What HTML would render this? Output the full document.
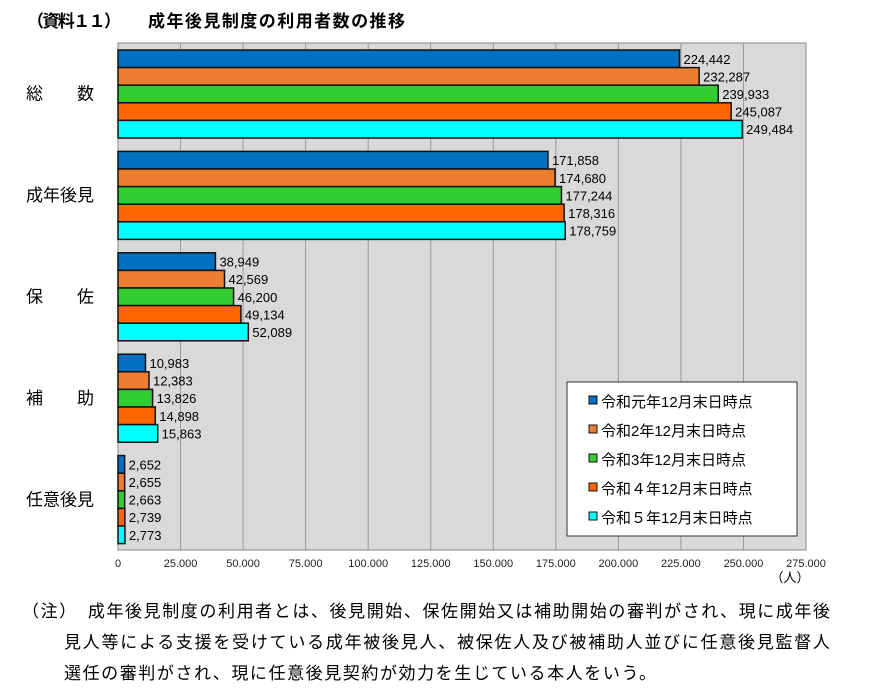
<!DOCTYPE html>
<html><head><meta charset="utf-8"><style>
body{margin:0;background:#fff;width:870px;height:694px;overflow:hidden;font-family:"Liberation Sans","Noto Sans CJK JP",sans-serif}
</style></head><body>
<svg width="870" height="694" font-family="Liberation Sans, Noto Sans CJK JP, sans-serif">
<g font-size="17" font-weight="bold">
<text x="27" y="27" textLength="94">（資料１１）</text>
<text x="148" y="27" textLength="257">成年後見制度の利用者数の推移</text>
</g>
<rect x="118" y="43" width="688" height="507" fill="#d9d9d9" stroke="#888"/>
<g id="grid"></g><g id="bars"></g><g id="cats"></g><g id="ticks"></g>
<text x="790" y="582" font-size="13" text-anchor="middle">（人）</text>
<g>
<rect x="567" y="382" width="230" height="154" fill="#fff" stroke="#333"/>
<g id="legend"></g></g>
<g font-size="17">
<text x="22" y="617" textLength="808">（注）　成年後見制度の利用者とは、後見開始、保佐開始又は補助開始の審判がされ、現に成年後</text>
<text x="64" y="648" textLength="766">見人等による支援を受けている成年被後見人、被保佐人及び被補助人並びに任意後見監督人</text>
<text x="64" y="679" textLength="592">選任の審判がされ、現に任意後見契約が効力を生じている本人をいう。</text>
</g>
</svg>
<script>
const categories=["総　　数","成年後見","保　　佐","補　　助","任意後見"];
const seriesNames=["令和元年12月末日時点","令和2年12月末日時点","令和3年12月末日時点","令和４年12月末日時点","令和５年12月末日時点"];
const s1=[224442,171858,38949,10983,2652];
const s2=[232287,174680,42569,12383,2655];
const s3=[239933,177244,46200,13826,2663];
const s4=[245087,178316,49134,14898,2739];
const s5=[249484,178759,52089,15863,2773];
const ticks=[0,25000,50000,75000,100000,125000,150000,175000,200000,225000,250000,275000];
const series=[s1,s2,s3,s4,s5];
const colors=["#0070c0","#ed7d31","#33cc33","#ff6600","#00ffff"];
const NS="http://www.w3.org/2000/svg";
const x0=118,x1=806,xmax=275000,plotTop=43,band=101.4,bh=17.6,off=7;
const X=v=>x0+v/xmax*(x1-x0);
function mk(t,a,p){const e=document.createElementNS(NS,t);for(const k in a)e.setAttribute(k,a[k]);document.getElementById(p).appendChild(e);return e;}
const fmt=v=>v.toLocaleString('en-US');
ticks.forEach(t=>{
 if(t>0&&t<xmax){const g=mk('line',{x1:X(t),x2:X(t),y1:plotTop,y2:550,stroke:'#999'},'grid');
 
 }
 const l=mk('text',{x:X(t),y:567,'font-size':11,'text-anchor':'middle',fill:'#222'},'ticks');
 l.textContent=fmt(t).replace(/,/g,'.');
 
 
});
categories.forEach((c,i)=>{
 const t=mk('text',{x:26,y:plotTop+band*i+band/2+6,'font-size':17},'cats');t.textContent=c;
 
 
 series.forEach((s,j)=>{
  const y=plotTop+band*i+off+bh*j;
  const r=mk('rect',{x:x0,y:y,width:X(s[i])-x0,height:bh,fill:colors[j],stroke:'#111','stroke-width':1.5},'bars');
  
  
  const v=mk('text',{x:X(s[i])+4,y:y+bh/2+5,'font-size':13},'bars');v.textContent=fmt(s[i]);
  
  
 });
});
seriesNames.forEach((n,j)=>{
 const y=394+j*29;
 const r=mk('rect',{x:589,y:y+2,width:8,height:8,fill:colors[j],stroke:'#111'},'legend');
 
 
 const t=mk('text',{x:601,y:y+13,'font-size':15},'legend');t.textContent=n;
 
 
});
</script>
</body></html>
